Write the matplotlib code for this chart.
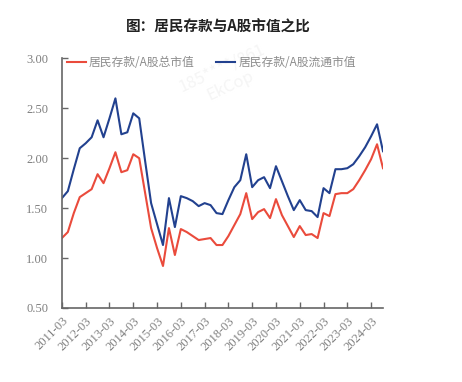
import matplotlib
matplotlib.use("Agg")
import matplotlib.pyplot as plt

plt.rcParams['font.family'] = ['Noto Sans CJK SC', 'DejaVu Sans']

# --------------------- data (quarterly, 2011-03 .. 2024-09) ---------------------
total_ratio = [1.20, 1.26, 1.45, 1.61, 1.65, 1.69, 1.84, 1.75, 1.90, 2.06,
               1.86, 1.88, 2.04, 2.00, 1.65, 1.30, 1.10, 0.92, 1.30, 1.03,
               1.29, 1.26, 1.22, 1.18, 1.19, 1.20, 1.13, 1.13, 1.22, 1.33,
               1.44, 1.65, 1.39, 1.46, 1.49, 1.40, 1.59, 1.43, 1.32, 1.21,
               1.32, 1.23, 1.24, 1.20, 1.45, 1.42, 1.64, 1.65, 1.65, 1.69,
               1.78, 1.88, 1.99, 2.14, 1.90]
float_ratio = [1.60, 1.67, 1.89, 2.10, 2.15, 2.21, 2.38, 2.21, 2.40, 2.60,
               2.24, 2.26, 2.45, 2.40, 1.97, 1.55, 1.34, 1.13, 1.60, 1.31,
               1.62, 1.60, 1.57, 1.52, 1.55, 1.53, 1.45, 1.44, 1.58, 1.71,
               1.78, 2.04, 1.71, 1.78, 1.81, 1.70, 1.92, 1.77, 1.62, 1.48,
               1.58, 1.48, 1.47, 1.41, 1.70, 1.65, 1.89, 1.89, 1.90, 1.94,
               2.02, 2.11, 2.22, 2.34, 2.07]
year_labels = ["2011-03", "2012-03", "2013-03", "2014-03", "2015-03", "2016-03",
               "2017-03", "2018-03", "2019-03", "2020-03", "2021-03", "2022-03",
               "2023-03", "2024-03"]
y_ticks = [0.5, 1.0, 1.5, 2.0, 2.5, 3.0]

RED = "#EA4B3C"
BLUE = "#22418F"
GREY = "#7f7f7f"

x = list(range(len(total_ratio)))

fig = plt.figure(figsize=(4.62, 3.82), dpi=100)
ax = fig.add_axes([0.134, 0.194, 0.695, 0.653])

# faint watermark from the screenshot (kept under lines and legend)
ax.text(0.49, 0.80, "185****/861\nEkCop", transform=fig.transFigure,
        ha="center", va="center", fontsize=12, color="#f5f5f5",
        rotation=25, zorder=0.5)

ax.plot(x, total_ratio, color=RED, lw=1.5, label="居民存款/A股总市值")
ax.plot(x, float_ratio, color=BLUE, lw=1.5, label="居民存款/A股流通市值")

ax.set_xlim(0, len(x) - 1)
ax.set_ylim(0.5, 3.0)
ax.set_yticks(y_ticks)
ax.set_yticklabels([f"{v:.2f}" for v in y_ticks], family="Liberation Serif",
                   fontsize=9, color=GREY)
ax.set_xticks(list(range(0, len(x), 4)))
ax.set_xticklabels(year_labels, family="Liberation Serif", fontsize=9,
                   color=GREY, rotation=45, ha="right", va="top",
                   rotation_mode="anchor")

for s in ["top", "right"]:
    ax.spines[s].set_visible(False)
for s in ["left", "bottom"]:
    ax.spines[s].set_color("#666666")
    ax.spines[s].set_linewidth(1.2)
ax.tick_params(axis="both", direction="in", length=4, width=1, color="#666666")
ax.tick_params(axis="y", pad=10)
ax.tick_params(axis="x", pad=5)

leg = ax.legend(loc="upper left", bbox_to_anchor=(0.0, 1.03), ncol=2,
                frameon=False, fontsize=8.5, handlelength=1.6,
                handletextpad=0.3, columnspacing=1.8, borderaxespad=0.0)
for t in leg.get_texts():
    t.set_color("#8c8c8c")

fig.text(0.472, 0.93, "图：居民存款与A股市值之比", ha="center", va="center",
         fontsize=10.5, fontweight="bold", color="#222222")

fig.savefig("out.png", dpi=100, facecolor="white")
